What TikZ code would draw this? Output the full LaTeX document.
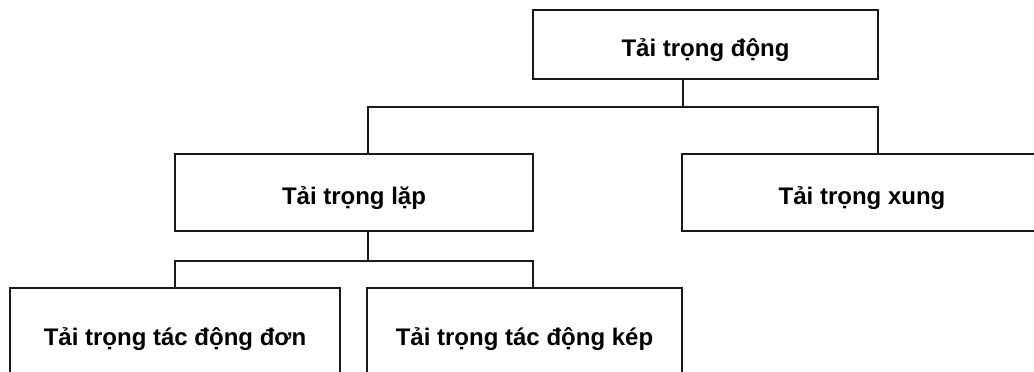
\documentclass[tikz,border=0pt]{standalone}
\usepackage{fontspec}
\setmainfont{Liberation Sans}
\usepackage{tikz}
\usetikzlibrary{positioning}

\begin{document}
\begin{tikzpicture}[x=0.75pt, y=-0.75pt, line width=1.5pt, draw=black!90,
        box/.style={draw, line width=1.5pt, minimum height=58pt, inner sep=0pt,
            text height=18pt, text depth=0pt,
            font=\fontsize{18}{22}\selectfont\bfseries}]
    \useasboundingbox (0,0) rectangle (1034,371);
    \node[box, minimum width=258.75pt, minimum height=51.75pt] (dong) at (705.5,44.5) {Tải trọng động};
    \node[box, minimum width=268.5pt] (lap) at (354,192.5) {Tải trọng lặp};
    \node[box, minimum width=270pt] (xung) at (862,192.5) {Tải trọng xung};
    \node[box, minimum width=247.5pt, minimum height=67.5pt] (don) at (175,333) {Tải trọng tác động đơn};
    \node[box, minimum width=236.25pt, minimum height=67.5pt] (kep) at (524.5,333) {Tải trọng tác động kép};
    % branch points
    \coordinate (j1) at (683,107);
    \coordinate (j1l) at (368,107);
    \coordinate (j1r) at (878,107);
    \coordinate (j2) at (368,261);
    \coordinate (j2r) at (533,261);
    \draw (dong.south -| j1) -- (j1);
    \draw (lap.north -| j1l) |- (j1) -| (xung.north -| j1r);
    \draw (lap.south -| j2) -- (j2);
    \draw (don.north) |- (j2) -| (kep.north -| j2r);
\end{tikzpicture}
\end{document}
